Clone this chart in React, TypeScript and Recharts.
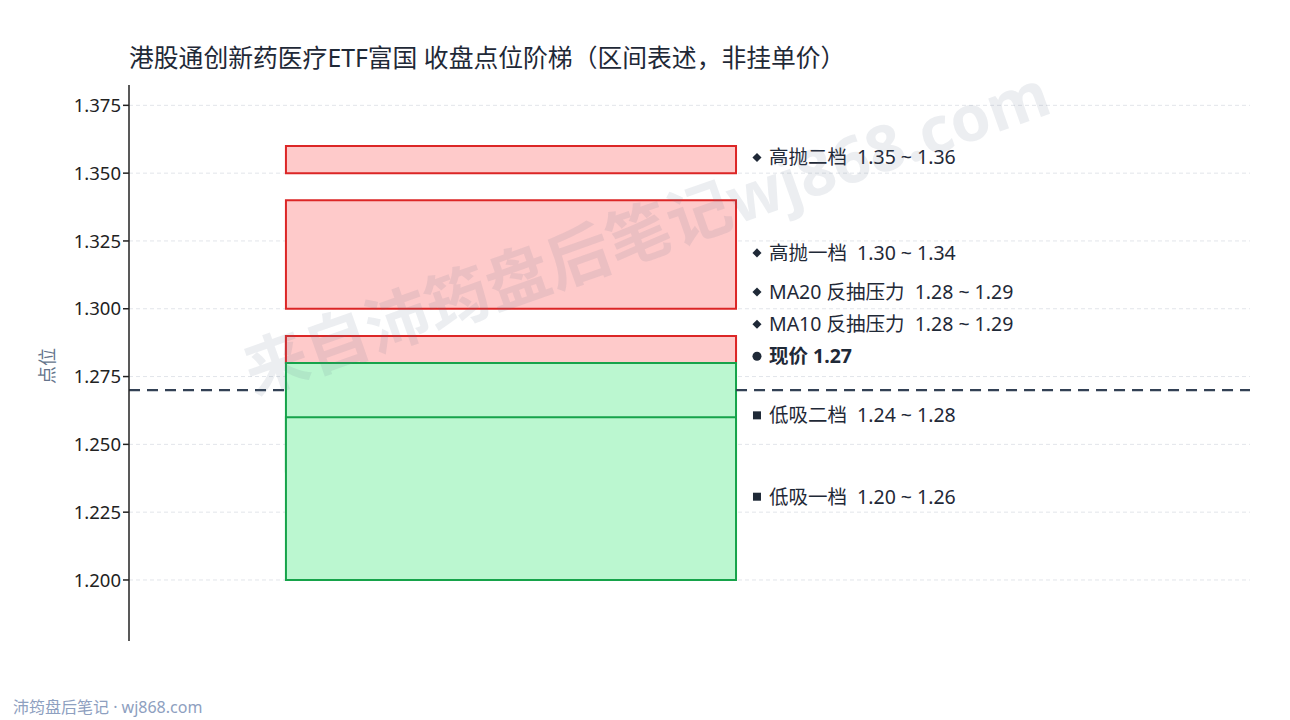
import { ComposedChart, XAxis, YAxis, CartesianGrid, ReferenceArea, ReferenceLine, ReferenceDot } from 'recharts'

// zones (close-price ladder)
const zoneNames = ['高抛二档', '高抛一档', 'MA20 反抽压力', 'MA10 反抽压力', '低吸二档', '低吸一档']
const zoneLow = [1.35, 1.30, 1.28, 1.28, 1.24, 1.20]
const zoneHigh = [1.36, 1.34, 1.29, 1.29, 1.28, 1.26]
const zoneKind = ['sell', 'sell', 'resist', 'resist', 'buy', 'buy']

const currentPrice = 1.27
const yTicks = [1.2, 1.225, 1.25, 1.275, 1.3, 1.325, 1.35, 1.375]

// label anchors (value units), spread so texts don't collide
const labelAnchor = [1.3558, 1.3206, 1.3062, 1.2943, 1.2825, 1.2607, 1.2307]

const W = 1274
const H = 704
const FONT = '"Noto Sans", "Noto Sans CJK SC", sans-serif'
const BOX_L = 0.14
const BOX_R = 0.5415
const LABEL_X = 0.5602

const fillOf = (k: string) => (k === 'buy' ? '#bbf7d0' : '#fecaca')
const strokeOf = (k: string) => (k === 'buy' ? '#16a34a' : '#dc2626')

const fmt = (v: number) => v.toFixed(2)

type Lbl = { text: string; marker: 'diamond' | 'circle' | 'square'; bold?: boolean }

const labels: Lbl[] = [
  ...zoneNames.slice(0, 4).map((n, i) => ({ text: `${n}  ${fmt(zoneLow[i])} ~ ${fmt(zoneHigh[i])}`, marker: 'diamond' as const })),
  { text: `现价 ${fmt(currentPrice)}`, marker: 'circle', bold: true },
  ...zoneNames.slice(4).map((n, j) => ({ text: `${n}  ${fmt(zoneLow[j + 4])} ~ ${fmt(zoneHigh[j + 4])}`, marker: 'square' as const })),
]

function LabelShape({ cx, cy, lbl }: { cx?: number; cy?: number; lbl: Lbl }) {
  if (cx == null || cy == null) return null
  const c = '#1f2937'
  let m
  if (lbl.marker === 'diamond') m = <rect x={cx - 3.2} y={cy - 3.2} width={6.4} height={6.4} fill={c} transform={`rotate(45 ${cx} ${cy})`} />
  else if (lbl.marker === 'circle') m = <circle cx={cx} cy={cy} r={4.5} fill={c} />
  else m = <rect x={cx - 4} y={cy - 4} width={8} height={8} fill={c} />
  return (
    <g>
      {m}
      <text x={cx + 12} y={cy} dy="0.35em" fill={c} fontSize={19.5} fontFamily={FONT}
        fontWeight={lbl.bold ? 700 : 400} style={{ whiteSpace: 'pre' }}>{lbl.text}</text>
    </g>
  )
}

export default function App() {
  return (
    <div style={{ position: 'relative', width: W + 8, height: H + 8, fontFamily: FONT }}>
      <div style={{ position: 'absolute', left: 121, top: 32, fontSize: 24.8, color: '#1f2937', whiteSpace: 'pre', lineHeight: '34px' }}>
        港股通创新药医疗ETF富国 收盘点位阶梯（区间表述，非挂单价）
      </div>
      <div style={{ position: 'absolute', left: 38, top: 358, transform: 'translate(-50%, -50%) rotate(-90deg)', fontSize: 18, color: '#64748b', whiteSpace: 'pre' }}>
        点位
      </div>
      <ComposedChart width={W} height={H} data={[]} margin={{ top: 77, right: 32, bottom: 71, left: 60 }}>
        <CartesianGrid vertical={false} stroke="#e2e5ea" strokeDasharray="4 3" syncWithTicks />
        <XAxis type="number" dataKey="x" domain={[0, 1]} hide allowDataOverflow />
        <YAxis type="number" domain={[1.1775, 1.3825]} ticks={yTicks} allowDataOverflow width={61}
          tickFormatter={(v: number) => v.toFixed(3)} tickSize={6}
          axisLine={{ stroke: '#222', strokeWidth: 1.5 }} tickLine={{ stroke: '#222', strokeWidth: 1.5 }}
          tick={{ fontSize: 18.5, fill: '#222', fontFamily: FONT }} />
        {/* current price line, kept off the boxes */}
        <ReferenceLine segment={[{ x: 0, y: currentPrice }, { x: BOX_L, y: currentPrice }]} stroke="#334155" strokeWidth={2.2} strokeDasharray="11 7" />
        <ReferenceLine segment={[{ x: BOX_R, y: currentPrice }, { x: 1, y: currentPrice }]} stroke="#334155" strokeWidth={2.2} strokeDasharray="11 7" />
        {zoneNames.map((n, i) => (
          <ReferenceArea key={n} x1={BOX_L} x2={BOX_R} y1={zoneLow[i]} y2={zoneHigh[i]}
            fill={fillOf(zoneKind[i])} fillOpacity={1} stroke={strokeOf(zoneKind[i])} strokeWidth={2} ifOverflow="visible" />
        ))}
        {labels.map((l, i) => (
          <ReferenceDot key={l.text} x={LABEL_X} y={labelAnchor[i]} r={4} ifOverflow="visible"
            shape={(p: any) => <LabelShape cx={p.cx} cy={p.cy} lbl={l} />} />
        ))}
      </ComposedChart>
      <div style={{ position: 'absolute', left: 637, top: 220, transform: 'translate(-50%, -50%) rotate(-19.5deg)', fontSize: 64, fontWeight: 700, color: 'rgba(100,116,139,0.12)', whiteSpace: 'pre', pointerEvents: 'none' }}>
        来自沛筠盘后笔记wj868.com
      </div>
      <div style={{ position: 'absolute', left: 5, top: 688, fontSize: 16, lineHeight: '22px', color: '#8ea0c0', whiteSpace: 'pre' }}>
        沛筠盘后笔记 · wj868.com
      </div>
    </div>
  )
}
